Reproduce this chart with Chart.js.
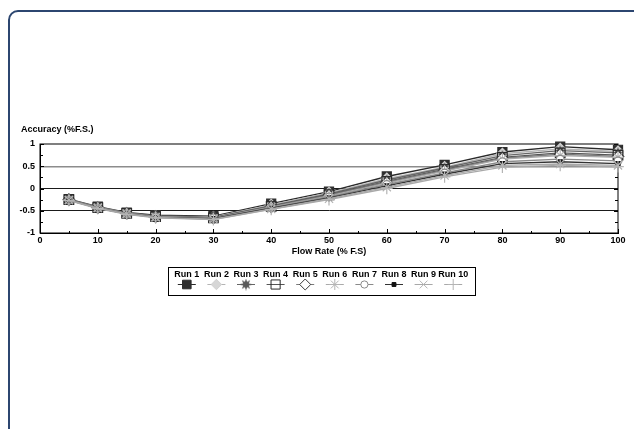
<!DOCTYPE html>
<html>
<head>
<meta charset="utf-8">
<title>Accuracy vs Flow Rate</title>
<script src="https://cdn.jsdelivr.net/npm/chart.js@4/dist/chart.umd.min.js"></script>
<style>
  html, body { margin: 0; padding: 0; background: #fff; overflow: hidden; }
  #wrap { position: relative; width: 634px; height: 429px; }
  #frame {
    position: absolute; left: 8px; top: 10px; width: 640px; height: 430px;
    border: 2px solid #2c4670; border-radius: 10px; box-sizing: border-box;
  }
  canvas { position: absolute; left: 0; top: 0; }
</style>
</head>
<body>
<div id="wrap">
  <div id="frame"></div>
  <canvas id="c" width="634" height="429"></canvas>
</div>
<script>
// Flow rate set points (% of full scale)
const flowRate = [5, 10, 15, 20, 30, 40, 50, 60, 70, 80, 90, 100];

// Measured accuracy (% F.S.) for each run
const run1  = [-0.24, -0.41, -0.54, -0.60, -0.62, -0.34, -0.07, 0.27, 0.53, 0.82, 0.94, 0.87];
const run2  = [-0.25, -0.42, -0.55, -0.62, -0.64, -0.37, -0.10, 0.22, 0.48, 0.78, 0.89, 0.83];
const run3  = [-0.25, -0.42, -0.55, -0.62, -0.65, -0.39, -0.12, 0.19, 0.46, 0.74, 0.85, 0.80];
const run4  = [-0.25, -0.43, -0.56, -0.63, -0.66, -0.40, -0.14, 0.16, 0.43, 0.70, 0.80, 0.75];
const run5  = [-0.25, -0.43, -0.56, -0.63, -0.66, -0.41, -0.15, 0.14, 0.41, 0.68, 0.77, 0.72];
const run6  = [-0.26, -0.43, -0.56, -0.64, -0.67, -0.42, -0.17, 0.12, 0.39, 0.66, 0.74, 0.70];
const run7  = [-0.26, -0.44, -0.57, -0.64, -0.67, -0.43, -0.19, 0.09, 0.35, 0.60, 0.66, 0.62];
const run8  = [-0.26, -0.44, -0.57, -0.65, -0.68, -0.44, -0.21, 0.06, 0.32, 0.56, 0.60, 0.56];
const run9  = [-0.26, -0.44, -0.57, -0.65, -0.69, -0.46, -0.23, 0.03, 0.29, 0.52, 0.55, 0.52];
const run10 = [-0.27, -0.45, -0.58, -0.66, -0.70, -0.47, -0.25, 0.00, 0.26, 0.48, 0.52, 0.49];

const runLabels = ['Run 1', 'Run 2', 'Run 3', 'Run 4', 'Run 5', 'Run 6', 'Run 7', 'Run 8', 'Run 9', 'Run 10'];
const runValues = [run1, run2, run3, run4, run5, run6, run7, run8, run9, run10];

const yTickValues = [-1, -0.5, 0, 0.5, 1];
const xTickValues = [0, 10, 20, 30, 40, 50, 60, 70, 80, 90, 100];

const FONT = { family: '"Liberation Sans", Arial, Helvetica, sans-serif', size: 9, weight: 'bold' };

// Filled starburst marker
function makeStar(size, color) {
  const cv = document.createElement('canvas');
  cv.width = size; cv.height = size;
  const g = cv.getContext('2d');
  const c = size / 2, outer = size / 2, inner = size / 4.2, n = 8;
  g.beginPath();
  for (let i = 0; i < n * 2; i++) {
    const r = i % 2 === 0 ? outer : inner;
    const a = (Math.PI * i) / n - Math.PI / 2;
    const px = c + r * Math.cos(a), py = c + r * Math.sin(a);
    if (i === 0) g.moveTo(px, py); else g.lineTo(px, py);
  }
  g.closePath();
  g.fillStyle = color;
  g.fill();
  return cv;
}

// Marker and line styling per run
const runStyles = [
  { line: '#2a2a2a', style: 'rect',     radius: 6.4, fill: '#2e2e2e', stroke: '#2e2e2e' },
  { line: '#b4b4b4', style: 'rectRot',  radius: 5.5, fill: '#d6d6d6', stroke: '#d0d0d0' },
  { line: '#666666', style: makeStar(12, '#5a5a5a'), radius: 6, fill: '#5a5a5a', stroke: '#5a5a5a' },
  { line: '#555555', style: 'rect',     radius: 6.8, fill: 'rgba(0,0,0,0)', stroke: '#2a2a2a' },
  { line: '#7a7a7a', style: 'rectRot',  radius: 5.8, fill: '#ffffff', stroke: '#3a3a3a' },
  { line: '#aaaaaa', style: 'star',     radius: 5.8, fill: '#b4b4b4', stroke: '#b4b4b4' },
  { line: '#8a8a8a', style: 'circle',   radius: 3.8, fill: '#ffffff', stroke: '#8a8a8a' },
  { line: '#333333', style: 'rect',     radius: 2.9, fill: '#111111', stroke: '#111111' },
  { line: '#a8a8a8', style: 'crossRot', radius: 5.8, fill: '#b4b4b4', stroke: '#b4b4b4' },
  { line: '#a8a8a8', style: 'cross',    radius: 5.8, fill: '#b4b4b4', stroke: '#b4b4b4' }
];

const datasets = runValues.map((vals, i) => ({
  label: runLabels[i],
  data: flowRate.map((x, k) => ({ x: x, y: vals[k] })),
  borderColor: runStyles[i].line,
  borderWidth: 1.4,
  backgroundColor: runStyles[i].fill,
  pointStyle: runStyles[i].style,
  pointRadius: runStyles[i].radius,
  pointBackgroundColor: runStyles[i].fill,
  pointBorderColor: runStyles[i].stroke,
  pointBorderWidth: 1.2,
  tension: 0,
  clip: false
})).reverse(); // Run 1 ends up on top

function isMultiple(v, step) {
  return Math.abs(v / step - Math.round(v / step)) < 1e-6;
}

// Frame, inward tick marks, y-axis caption and the run legend
const plotDecor = {
  id: 'plotDecor',
  beforeDatasetsDraw(chart) {
    const { ctx, chartArea: a, scales } = chart;
    ctx.save();
    ctx.strokeStyle = '#000';
    ctx.lineWidth = 1;
    ctx.strokeRect(a.left, a.top, a.right - a.left, a.bottom - a.top);
    ctx.beginPath();
    scales.y.ticks.forEach(t => {
      const py = Math.round(scales.y.getPixelForValue(t.value)) + 0.5;
      const len = isMultiple(t.value, 0.5) ? 4 : 3;
      ctx.moveTo(a.left, py); ctx.lineTo(a.left + len, py);
      ctx.moveTo(a.right, py); ctx.lineTo(a.right - len, py);
    });
    scales.x.ticks.forEach(t => {
      const px = Math.round(scales.x.getPixelForValue(t.value)) + 0.5;
      const len = isMultiple(t.value, 10) ? 4 : 2;
      ctx.moveTo(px, a.bottom); ctx.lineTo(px, a.bottom - len);
    });
    ctx.stroke();
    ctx.restore();
  },
  afterDraw(chart) {
    const { ctx } = chart;
    ctx.save();
    ctx.font = 'bold 9px "Liberation Sans", Arial, Helvetica, sans-serif';
    ctx.fillStyle = '#000';
    ctx.textBaseline = 'middle';
    ctx.textAlign = 'left';
    ctx.fillText('Accuracy (%F.S.)', 21, 130);

    // legend box
    ctx.strokeStyle = '#000';
    ctx.lineWidth = 1;
    ctx.strokeRect(168.5, 267.5, 307, 28);
    ctx.textAlign = 'center';
    const drawPoint = Chart.helpers && Chart.helpers.drawPoint;
    runLabels.forEach((label, i) => {
      const cx = 186.8 + i * 29.6;
      const s = runStyles[i];
      ctx.fillStyle = '#000';
      ctx.fillText(label, cx, 274.5);
      const my = 284.5;
      ctx.strokeStyle = s.line;
      ctx.lineWidth = 1;
      ctx.beginPath();
      ctx.moveTo(cx - 9, my); ctx.lineTo(cx + 9, my);
      ctx.stroke();
      if (drawPoint) {
        ctx.fillStyle = s.fill;
        ctx.strokeStyle = s.stroke;
        ctx.lineWidth = 1;
        drawPoint(ctx, { pointStyle: s.style, radius: s.radius * 0.95, borderWidth: 1, rotation: 0 }, cx, my);
      }
    });
    ctx.restore();
  }
};

new Chart(document.getElementById('c'), {
  type: 'line',
  data: { datasets: datasets },
  options: {
    responsive: false,
    animation: false,
    layout: { padding: { left: 0, top: 144, right: 16, bottom: 172 } },
    plugins: { legend: { display: false }, tooltip: { enabled: false } },
    scales: {
      x: {
        type: 'linear',
        min: 0, max: 100,
        afterFit(scale) { scale.height = 24; },
        ticks: {
          stepSize: 5, autoSkip: false, maxRotation: 0, padding: 2,
          color: '#000', font: FONT,
          callback: v => (xTickValues.includes(v) ? String(v) : '')
        },
        grid: { display: false, drawTicks: false },
        border: { display: true, color: '#000', width: 1 },
        title: { display: true, text: 'Flow Rate (% F.S)', color: '#000', font: FONT, padding: { top: 0, bottom: 0 } }
      },
      y: {
        type: 'linear',
        min: -1, max: 1,
        afterFit(scale) { scale.width = 40; },
        ticks: {
          stepSize: 0.25, autoSkip: false, padding: 5,
          color: '#000', font: FONT,
          callback: v => (yTickValues.some(t => Math.abs(t - v) < 1e-6) ? String(v) : '')
        },
        grid: {
          drawTicks: false,
          color: c => {
            const v = c.tick ? c.tick.value : NaN;
            if (Math.abs(v - 0.5) < 1e-6) return '#8c8c8c';
            if (Math.abs(v) < 1e-6 || Math.abs(v + 0.5) < 1e-6) return '#1a1a1a';
            return 'rgba(0,0,0,0)';
          },
          lineWidth: c => (c.tick && Math.abs(c.tick.value - 0.5) < 1e-6 ? 1.5 : 1)
        },
        border: { display: true, color: '#000', width: 1 }
      }
    }
  },
  plugins: [plotDecor]
});
</script>
</body>
</html>
